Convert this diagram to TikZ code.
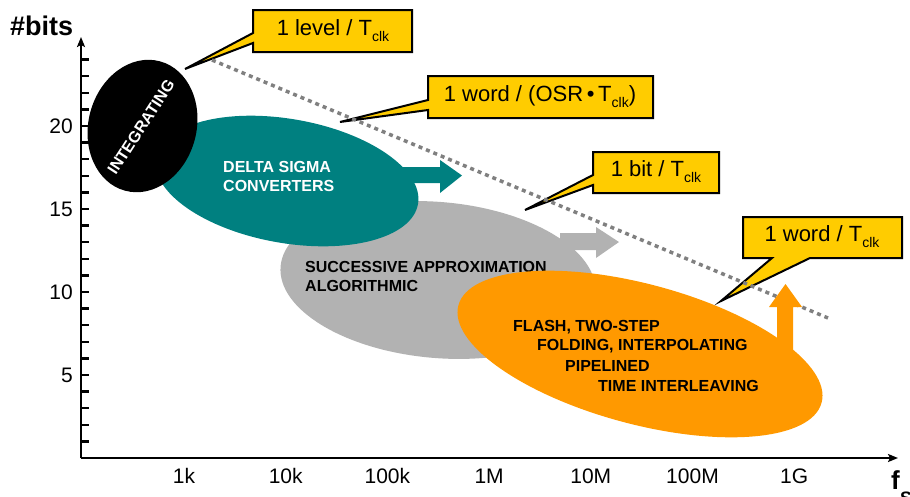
\documentclass[tikz,border=0pt]{standalone}
\usepackage{fontspec}
\setmainfont{Liberation Sans}
\usetikzlibrary{shapes.geometric,arrows.meta}
\definecolor{dsteal}{RGB}{0,128,128}
\definecolor{sagray}{RGB}{178,178,178}
\definecolor{florange}{RGB}{255,153,0}
\definecolor{callyellow}{RGB}{255,204,0}
\definecolor{dotgray}{RGB}{128,128,128}
\newcommand{\clk}{\raisebox{-6pt}{\fontsize{14}{14}\selectfont clk}}
\begin{document}
\begin{tikzpicture}[x=1pt,y=-1pt,
  blob/.style={ellipse, inner sep=0pt, draw=none},
  lbl/.style={font=\fontsize{16}{19}\selectfont\bfseries, inner sep=0pt, anchor=west, align=left},
  axnum/.style={font=\fontsize{21}{21}\selectfont, inner sep=0pt},
  callout/.style={fill=callyellow, draw=black, line width=2pt, line join=miter},
  calltext/.style={font=\fontsize{22}{22}\selectfont, inner sep=0pt},
  axisline/.style={line width=2.5pt, -{Stealth[length=10pt,width=8pt,inset=2pt]}},
  tickline/.style={line width=2.5pt}]
\useasboundingbox (0,0) rectangle (910,496);

% axes
\coordinate (O) at (81,458);
\coordinate (ytop) at (81,37);
\coordinate (xend) at (898,458);
\draw[axisline] (O) -- (ytop);
\draw[axisline] (O) -- (xend);
\foreach \b in {1,...,24} {
  \draw[tickline] (80,{458-16.6*\b}) -- (89,{458-16.6*\b});
}
\foreach \b in {5,10,15,20} {
  \node[axnum, anchor=east] (yl\b) at (73,{458-16.6*\b}) {\b};
}
\foreach \t [count=\i from 0] in {1k,10k,100k,1M,10M,100M,1G} {
  \node[axnum] (xl\i) at ({184+101.7*\i},476) {\t};
}
\node[font=\fontsize{27}{27}\selectfont\bfseries, inner sep=0pt, anchor=base west] (ylab) at (10,35) {\#bits};
\node[font=\fontsize{26}{26}\selectfont\bfseries, inner sep=0pt, anchor=base west] (xlab) at (891,489) {f};
\node[font=\fontsize{18}{18}\selectfont\bfseries, inner sep=0pt, anchor=base west] (xlabs) at (900,504) {S};

% regions
\node[blob, fill=sagray, minimum width=316pt, minimum height=156pt, rotate=-5] (sa) at (438,280) {};
\fill[sagray] (560,233) -- (596,233) -- (596,227) -- (619,242) -- (596,258) -- (596,250) -- (560,250) -- cycle;
\node[blob, fill=dsteal, minimum width=266pt, minimum height=124pt, rotate=-10] (ds) at (287,181) {};
\fill[dsteal] (400,167) -- (440,167) -- (440,160) -- (462,175.5) -- (440,193) -- (440,183) -- (400,183) -- cycle;
\node[blob, fill=black, minimum width=134pt, minimum height=108pt, rotate=75] (int) at (142.5,126) {};
\node[lbl, white, anchor=center, rotate=57] (intt) at (141,127) {INTEGRATING};
\node[lbl, white] (dst) at (223,176.5) {DELTA SIGMA\\CONVERTERS};
\node[lbl, black] (sat) at (305,276.5) {SUCCESSIVE APPROXIMATION\\ALGORITHMIC};

% callouts
\draw[callout] (253,10) -- (412,10) -- (412,52) -- (253,52) -- (253,43) -- (185,69) -- (253,33) -- cycle;
\node[calltext] (c1) at (333,31) {1 level / T\clk};
\draw[callout] (428,76) -- (653,76) -- (653,118) -- (428,118) -- (428,110) -- (340,122) -- (428,100) -- cycle;
\node[calltext] (c2) at (540,97) {1 word / (OSR\,•\,T\clk)};
\draw[callout] (593,152) -- (719,152) -- (719,193) -- (593,193) -- (593,185) -- (525,210) -- (593,175) -- cycle;
\node[calltext] (c3) at (656,172) {1 bit / T\clk};
\draw[callout] (743,217) -- (902,217) -- (902,258) -- (810,258) -- (721,301) -- (772,258) -- (743,258) -- cycle;
\node[calltext] (c4) at (822,237) {1 word / T\clk};

% limit line
\coordinate (ls) at (212,60);
\coordinate (le) at (828,318);
\draw[dotgray, line width=3.5pt, dash pattern=on 4pt off 4pt] (ls) -- (le);

% flash region
\fill[florange] (777,352) -- (777,307) -- (769,307) -- (785.5,284) -- (802,307) -- (793,307) -- (793,352) -- cycle;
\node[blob, fill=florange, minimum width=376pt, minimum height=140pt, rotate=-15] (fl) at (640,354) {};
\node[lbl] (f1) at (513,327) {FLASH, TWO-STEP};
\node[lbl] (f2) at (537,346) {FOLDING, INTERPOLATING};
\node[lbl] (f3) at (565,366) {PIPELINED};
\node[lbl] (f4) at (598,386) {TIME INTERLEAVING};
\end{tikzpicture}
\end{document}
